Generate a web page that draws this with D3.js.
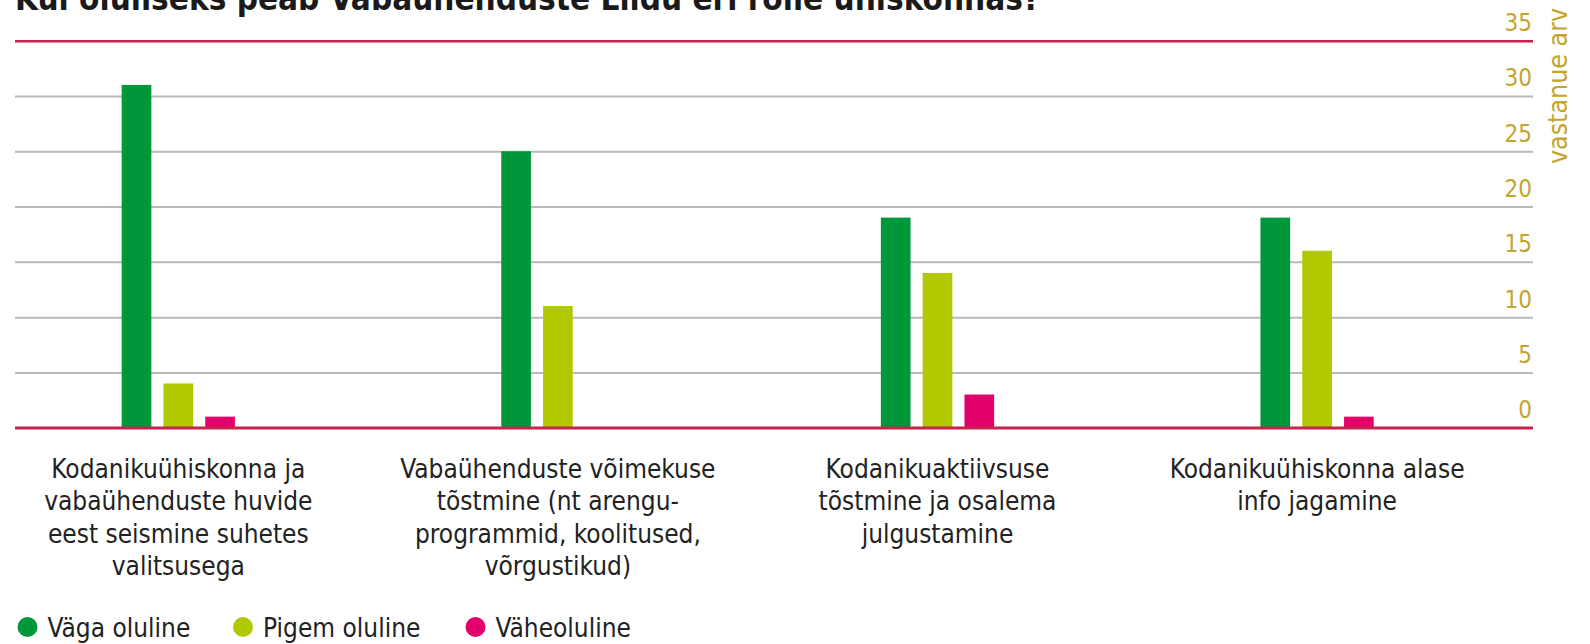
<!DOCTYPE html>
<html><head><meta charset="utf-8">
<script src="https://cdn.jsdelivr.net/npm/d3@7"></script>
<style>
html,body{margin:0;padding:0;background:#fff;}
svg text{font-family:"Liberation Sans Narrow","Arial Narrow","DejaVu Sans Condensed","Open Sans",sans-serif;}
</style></head>
<body>
<svg id="chart" width="1590" height="644"></svg>
<script>
const title = "Kui oluliseks peab Vabaühenduste Liidu eri rolle ühiskonnas?";
const categories = [
  ["Kodanikuühiskonna ja","vabaühenduste huvide","eest seismine suhetes","valitsusega"],
  ["Vabaühenduste võimekuse","tõstmine (nt arengu-","programmid, koolitused,","võrgustikud)"],
  ["Kodanikuaktiivsuse","tõstmine ja osalema","julgustamine"],
  ["Kodanikuühiskonna alase","info jagamine"]
];
const seriesNames = ["Väga oluline","Pigem oluline","Väheoluline"];
const vagaOluline  = [31, 25, 19, 19];
const pigemOluline = [4, 11, 14, 16];
const vaheoluline  = [1, 0, 3, 1];
const seriesValues = [vagaOluline, pigemOluline, vaheoluline];
const colors = ["#00963a","#b0c900","#e4006c"];
const yTicks = [0,5,10,15,20,25,30,35];
const yTitle = "vastanue arv";

const svg = d3.select("#chart");
const gridLeft = 15, gridRight = 1533;
const y = d3.scaleLinear().domain([0,35]).range([427.7,40.7]);
const groupIdx = d3.range(categories.length);
const x0 = d3.scaleBand().domain(groupIdx).range([-11.5,1506.9]).padding(0);
const x1 = d3.scaleBand().domain(d3.range(seriesNames.length))
  .range([x0.bandwidth()/2-62.7, x0.bandwidth()/2+62.7]).paddingInner(0.29).paddingOuter(0.145);

// title (cropped at top, as in the reference)
svg.append("text").attr("x",15).attr("y",10).attr("font-size",33).attr("font-weight","bold")
  .attr("fill","#1a1a1a").text(title);

// gridlines
const yAxis = d3.axisRight(y).tickValues(yTicks).tickSize(gridRight-gridLeft).tickFormat(d=>d);
const ga = svg.append("g").attr("transform",`translate(${gridLeft},0)`).call(yAxis);
ga.select(".domain").remove();
ga.selectAll(".tick line").attr("stroke",d=> (d===0||d===35)?"#c8234d":"#b9b9b9")
  .attr("stroke-width",d=> (d===0||d===35)?2.5:2);
ga.selectAll(".tick text").attr("x",gridRight-gridLeft-1).attr("dy",0).attr("y",-10)
  .attr("text-anchor","end").attr("font-size",24).attr("fill","#c4a52c");

// bars
const groups = svg.append("g").selectAll("g").data(groupIdx).join("g")
  .attr("transform",i=>`translate(${x0(i)},0)`);
groups.selectAll("rect").data(i=>seriesValues.map((s,k)=>({k,v:s[i]}))).join("rect")
  .attr("x",d=>x1(d.k)).attr("width",x1.bandwidth())
  .attr("y",d=>y(d.v)).attr("height",d=>y(0)-y(d.v))
  .attr("fill",d=>colors[d.k]);

// redraw baseline over bars
svg.append("line").attr("x1",gridLeft).attr("x2",gridRight).attr("y1",y(0)).attr("y2",y(0))
  .attr("stroke","#c8234d").attr("stroke-width",2.5);

// category labels
groups.append("text").attr("text-anchor","middle").attr("font-size",26).attr("fill","#222")
  .attr("x",x0.bandwidth()/2)
  .selectAll("tspan").data(i=>categories[i]).join("tspan")
  .attr("x",x0.bandwidth()/2).attr("y",(d,j)=>478+j*32.4).text(d=>d);

// y title
svg.append("text").attr("transform","translate(1567,86) rotate(-90)").attr("text-anchor","middle")
  .attr("font-size",26.5).attr("fill","#c4a52c").text(yTitle);

// legend
const legX = [27.5,243,475.5];
const leg = svg.append("g").selectAll("g").data(seriesNames).join("g")
  .attr("transform",(d,i)=>`translate(${legX[i]},627)`);
leg.append("circle").attr("r",10).attr("fill",(d,i)=>colors[i]);
leg.append("text").attr("x",20).attr("y",9.5).attr("font-size",26).attr("fill","#222").text(d=>d);
</script>
</body></html>
